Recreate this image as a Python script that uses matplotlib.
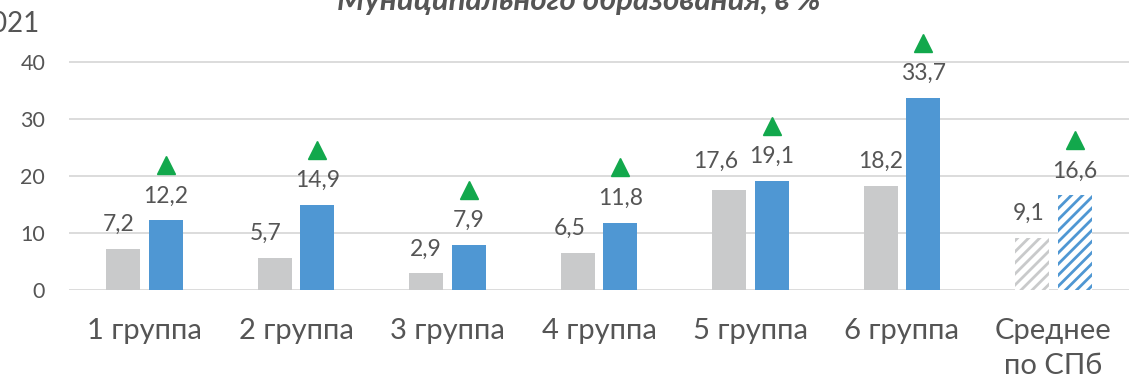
import matplotlib
matplotlib.use("Agg")
import matplotlib.pyplot as plt
import numpy as np

# --- data ---------------------------------------------------------------
categories = ["1 группа", "2 группа", "3 группа", "4 группа",
              "5 группа", "6 группа", "Среднее\nпо СПб"]
values_prev = [7.2, 5.7, 2.9, 6.5, 17.6, 18.2, 9.1]
values_2021 = [12.2, 14.9, 7.9, 11.8, 19.1, 33.7, 16.6]
y_ticks = [0, 10, 20, 30, 40]
title_text = "Муниципального образования, в %"
year_text = "2021"

# --- style --------------------------------------------------------------
FONT = ["Lato", "Open Sans", "DejaVu Sans"]
TEXT = "#555555"
GRAY = "#C9CACB"
BLUE = "#4F97D3"
GREEN = "#12A84C"
GRID = "#D9D9D9"

plt.rcParams["font.family"] = FONT
plt.rcParams["hatch.linewidth"] = 2.0

fig = plt.figure(figsize=(11.4, 3.83), dpi=100)
W, H = 1140, 383
ax = fig.add_axes([68.75 / W, 1 - 290 / H, (1129.25 - 68.75) / W, 256.5 / H])
ax.set_xlim(-0.5, len(categories) - 0.5)
ax.set_ylim(0, 45)

x = np.arange(len(categories))
bw = 0.224
off = 0.141
n_avg = len(categories) - 1

for i in range(len(categories)):
    hatched = i == n_avg
    for xv, val, col in ((x[i] - off, values_prev[i], GRAY),
                         (x[i] + off, values_2021[i], BLUE)):
        if hatched:
            ax.bar(xv, val, bw, facecolor="white", edgecolor=col,
                   hatch="///", linewidth=0, zorder=3)
        else:
            ax.bar(xv, val, bw, color=col, linewidth=0, zorder=3)

# growth markers above the 2021 bars
ax.plot(x + off, np.array(values_2021) + 9.7, linestyle="none", marker="^",
        markersize=13, color=GREEN, clip_on=False, zorder=4)

# value labels (pixel nudges for the left-hand labels)
gray_dx = [-5, -9, 0, -8, -13, 0, -4]
gray_dy = [0, 0, 0, 0, 3.5, 0, 0]
px = 72 / 100
LABEL_SIZE = 16.5
for i in range(len(categories)):
    ax.annotate(f"{values_prev[i]:.1f}".replace(".", ","),
                (x[i] - off, values_prev[i]),
                xytext=(gray_dx[i] * px, (18 + gray_dy[i]) * px),
                textcoords="offset points", ha="center", va="baseline",
                fontsize=LABEL_SIZE, color=TEXT, zorder=5)
    ax.annotate(f"{values_2021[i]:.1f}".replace(".", ","),
                (x[i] + off, values_2021[i]),
                xytext=(0, 18 * px), textcoords="offset points",
                ha="center", va="baseline", fontsize=LABEL_SIZE,
                color=TEXT, zorder=5)

# axes styling
ax.set_yticks(y_ticks)
ax.set_yticklabels([str(t) for t in y_ticks])
ax.set_xticks(x)
ax.set_xticklabels(categories, linespacing=1.45)
ax.tick_params(axis="y", length=0, pad=17, labelsize=15.5, labelcolor=TEXT)
ax.tick_params(axis="x", length=0, pad=20, labelsize=21, labelcolor=TEXT)
for s in ax.spines.values():
    s.set_visible(False)
ax.grid(axis="y", color=GRID, linewidth=1.3, zorder=0)
ax.set_axisbelow(True)

fig.text(337 / W, 1 - 10 / H, title_text, ha="left", va="baseline",
         fontsize=22.5, fontweight="bold", fontstyle="italic", color=TEXT)
fig.text(40 / W, 1 - 32 / H, year_text, ha="right", va="baseline",
         fontsize=20, color=TEXT)

fig.savefig("out.png", dpi=100)
